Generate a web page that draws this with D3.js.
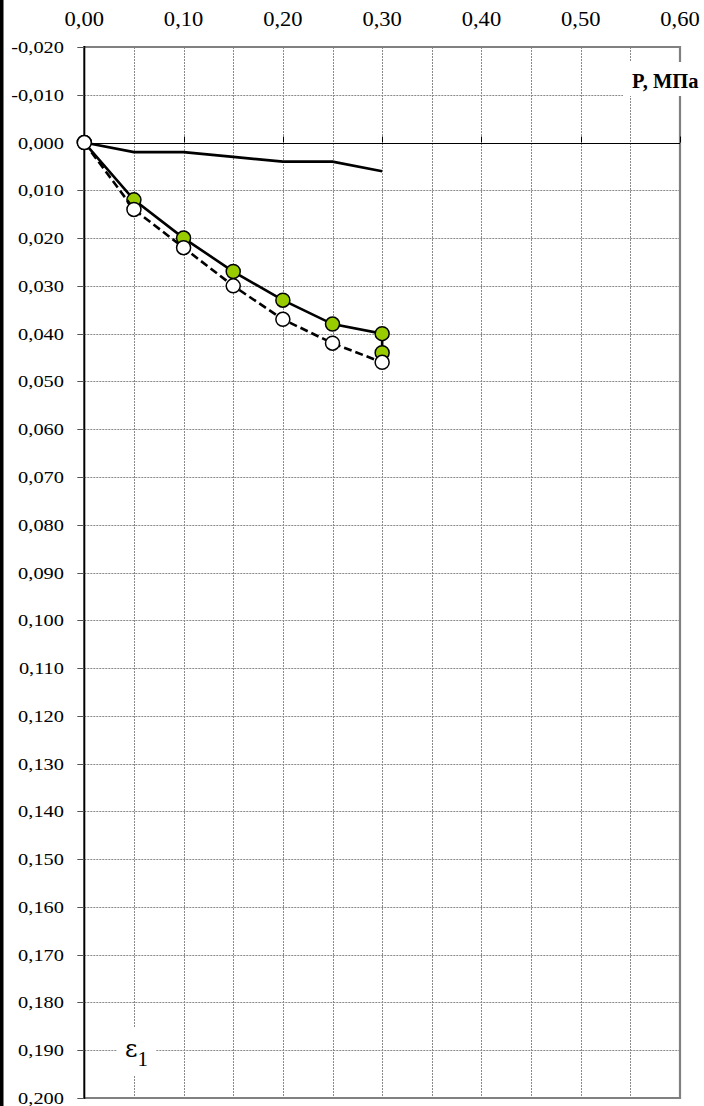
<!DOCTYPE html>
<html>
<head>
<meta charset="utf-8">
<script src="https://cdn.jsdelivr.net/npm/d3@7"></script>
<style>
  html, body { margin: 0; padding: 0; background: #fff; }
  svg { display: block; }
</style>
</head>
<body>
<svg id="chart" width="704" height="1106" font-family="'Liberation Serif', 'Times New Roman', Times, serif"></svg>
<script>
// Pressure steps, MPa
const pressure = [0, 0.05, 0.10, 0.15, 0.20, 0.25, 0.30];
// Upper curve (solid, no markers)
const strainUpper = [0, 0.002, 0.002, 0.003, 0.004, 0.004, 0.006];
// Curve with filled markers (ends with a second reading at 0.30)
const pressureFilled = [0, 0.05, 0.10, 0.15, 0.20, 0.25, 0.30, 0.30];
const strainFilled = [0, 0.012, 0.020, 0.027, 0.033, 0.038, 0.040, 0.044];
// Curve with open markers (dashed)
const strainOpen = [0, 0.014, 0.022, 0.030, 0.037, 0.042, 0.046];

// Axis ticks and their labels
const xTicks = [0, 0.1, 0.2, 0.3, 0.4, 0.5, 0.6];
const xTickLabels = ["0,00", "0,10", "0,20", "0,30", "0,40", "0,50", "0,60"];
const yTicks = d3.range(-2, 21).map(i => i / 100);
const yTickLabels = yTicks.map(v => (v < 0 ? "-" : "") + Math.abs(v).toFixed(3).replace(".", ","));
const xGrid = d3.range(1, 12).map(i => i * 0.05);

const svg = d3.select("#chart");
const x = d3.scaleLinear().domain([0, 0.6]).range([84.3, 680]);
const y = d3.scaleLinear().domain([-0.02, 0.2]).range([47, 1098]);

// dark strip at the left edge
svg.append("rect").attr("x", 0).attr("y", 0).attr("width", 3.5).attr("height", 1106).attr("fill", "#000");

// grid
const grid = svg.append("g").attr("stroke", "#8a8a8a").attr("stroke-width", 1).attr("stroke-dasharray", "2,1");
grid.selectAll("line.v").data(xGrid).join("line")
  .attr("x1", d => Math.round(x(d)) + 0.5).attr("x2", d => Math.round(x(d)) + 0.5)
  .attr("y1", y(-0.02)).attr("y2", y(0.2));
grid.selectAll("line.h").data(yTicks.filter(v => Math.abs(v) > 1e-9 && v > -0.0195 && v < 0.1995)).join("line")
  .attr("x1", x(0)).attr("x2", x(0.6))
  .attr("y1", d => Math.round(y(d)) + 0.5).attr("y2", d => Math.round(y(d)) + 0.5);

// frame (top, right, bottom)
svg.append("path")
  .attr("d", `M${x(0)},${y(-0.02)}H${x(0.6)}V${y(0.2)}H${x(0)}`)
  .attr("fill", "none").attr("stroke", "#808080").attr("stroke-width", 2.2);

// horizontal axis through zero with upward ticks
svg.append("line").attr("x1", x(0)).attr("x2", x(0.6))
  .attr("y1", Math.round(y(0)) + 0.5).attr("y2", Math.round(y(0)) + 0.5)
  .attr("stroke", "#000").attr("stroke-width", 1);
svg.append("g").selectAll("line").data(xTicks.slice(1)).join("line")
  .attr("x1", d => Math.round(x(d)) + 0.5).attr("x2", d => Math.round(x(d)) + 0.5)
  .attr("y1", y(0) - 6).attr("y2", y(0))
  .attr("stroke", "#000").attr("stroke-width", 1);

// vertical axis with outward ticks
svg.append("line").attr("x1", x(0)).attr("x2", x(0)).attr("y1", y(-0.02) - 1).attr("y2", y(0.2) + 1)
  .attr("stroke", "#000").attr("stroke-width", 2);
svg.append("g").selectAll("line").data(yTicks).join("line")
  .attr("x1", x(0) - 7).attr("x2", x(0))
  .attr("y1", d => Math.round(y(d)) + 0.5).attr("y2", d => Math.round(y(d)) + 0.5)
  .attr("stroke", "#555").attr("stroke-width", 1);

// tick labels
svg.append("g").selectAll("g").data(xTicks).join("g")
  .attr("transform", d => `translate(${x(d)},26)`)
  .append("text").attr("text-anchor", "middle").attr("font-size", 20.5)
  .attr("transform", "scale(1.1,1)")
  .text((d, i) => xTickLabels[i]);
svg.append("g").selectAll("g").data(yTicks).join("g")
  .attr("transform", d => `translate(64,${y(d) + 6})`)
  .append("text").attr("text-anchor", "end").attr("font-size", 17)
  .attr("transform", "scale(1.2,1)")
  .text((d, i) => yTickLabels[i]);

// curves
const line = d3.line().x(d => x(d[0])).y(d => y(d[1]));
const upper = pressure.map((p, i) => [p, strainUpper[i]]);
const filled = pressureFilled.map((p, i) => [p, strainFilled[i]]);
const open = pressure.map((p, i) => [p, strainOpen[i]]);

svg.append("path").datum(upper).attr("d", line)
  .attr("fill", "none").attr("stroke", "#000").attr("stroke-width", 2.6);
svg.append("path").datum(filled).attr("d", line)
  .attr("fill", "none").attr("stroke", "#000").attr("stroke-width", 2.6);
svg.append("g").selectAll("circle").data(filled).join("circle")
  .attr("cx", d => x(d[0])).attr("cy", d => y(d[1])).attr("r", 7)
  .attr("fill", "#99cc00").attr("stroke", "#000").attr("stroke-width", 1.5);
svg.append("path").datum(open).attr("d", line)
  .attr("fill", "none").attr("stroke", "#000").attr("stroke-width", 2.6)
  .attr("stroke-dasharray", "8,4");
svg.append("g").selectAll("circle").data(open).join("circle")
  .attr("cx", d => x(d[0])).attr("cy", d => y(d[1])).attr("r", 7)
  .attr("fill", "#fff").attr("stroke", "#000").attr("stroke-width", 1.5);

// axis titles on white boxes
svg.append("rect").attr("x", 623).attr("y", 62).attr("width", 81).attr("height", 34).attr("fill", "#fff");
svg.append("text").attr("x", 632).attr("y", 88).attr("font-size", 20.5).attr("font-weight", "bold")
  .text("P, МПа");

svg.append("rect").attr("x", 117).attr("y", 1028).attr("width", 39).attr("height", 47).attr("fill", "#fff");
const eps = svg.append("text").attr("x", 125).attr("y", 1057);
eps.append("tspan").attr("font-size", 24).attr("font-family", "'DejaVu Serif', serif").text("ε");
eps.append("tspan").attr("dy", 9).attr("font-size", 21).text("1");
</script>
</body>
</html>
